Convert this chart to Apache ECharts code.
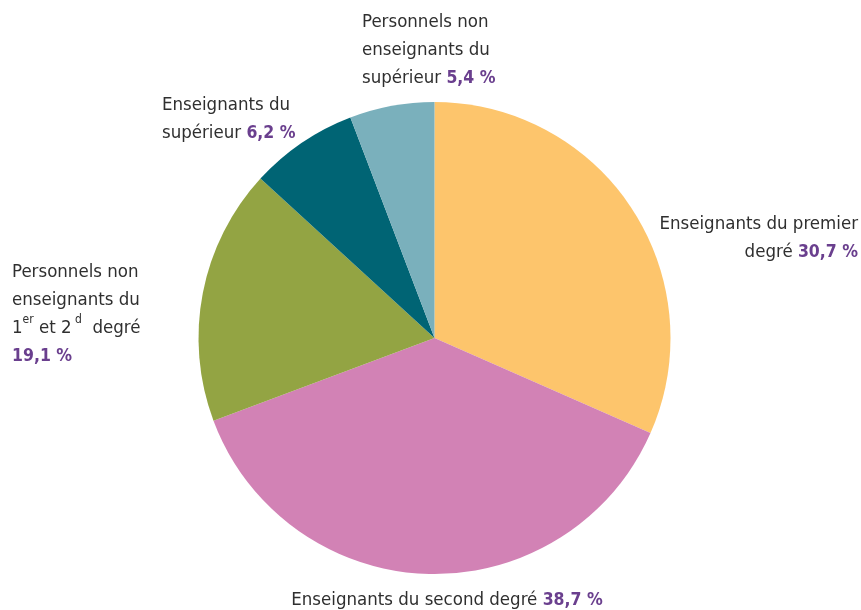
<!DOCTYPE html>
<html><head><meta charset="utf-8">
<script src="https://cdn.jsdelivr.net/npm/echarts@6/dist/echarts.min.js"></script>
<style>html,body{margin:0;padding:0;background:#fff}#c{width:861px;height:610px}</style>
</head><body><div id="c"></div>
<script>
const categories = [
  "Enseignants du premier degré",
  "Enseignants du second degré",
  "Personnels non enseignants du 1er et 2d degré",
  "Enseignants du supérieur",
  "Personnels non enseignants du supérieur"
];
// slice sizes as drawn in the picture (angles measured)
const values = [31.6, 37.7, 17.5, 7.4, 5.8];
// percentages printed in the labels
const labelPercents = ["30,7 %", "38,7 %", "19,1 %", "6,2 %", "5,4 %"];
const colors = ["#FDC56C", "#D282B5", "#93A443", "#006474", "#7AB0BC"];
const labelTexts = [
  "Enseignants du premier\ndegré {p|" + labelPercents[0] + "}",
  "Enseignants du second degré {p|" + labelPercents[1] + "}",
  "Personnels non\nenseignants du\n1{s|er} et 2{s| d}  degré\n{p|" + labelPercents[2] + "}",
  "Enseignants du\nsupérieur {p|" + labelPercents[3] + "}",
  "Personnels non\nenseignants du\nsupérieur {p|" + labelPercents[4] + "}"
];
const FONT = "'DejaVu Sans Condensed', 'Liberation Sans Narrow', Roboto, sans-serif";
const layouts = [
  {x: 858, y: 210, align: 'right'},
  {x: 447, y: 586, align: 'center'},
  {x: 12, y: 258, align: 'left'},
  {x: 162, y: 91, align: 'left'},
  {x: 362, y: 8, align: 'left'}
];
const chart = echarts.init(document.getElementById('c'));
chart.setOption({
  animation: false,
  series: [{
    type: 'pie',
    center: [434.5, 338],
    radius: 236,
    startAngle: 90,
    clockwise: true,
    data: categories.map((n, i) => ({name: n, value: values[i], itemStyle: {color: colors[i]},
      label: {formatter: labelTexts[i], align: layouts[i].align}})),
    label: {
      show: true,
      position: 'outside',
      overflow: 'none',
      color: '#2f2f2f',
      fontFamily: FONT,
      fontSize: 18.5,
      lineHeight: 28,
      rich: {
        p: {color: '#6A3F8E', fontWeight: 'bold', fontSize: 17.5, fontFamily: FONT, lineHeight: 28},
        s: {color: '#2f2f2f', fontSize: 12, fontFamily: FONT, verticalAlign: 'top', lineHeight: 28}
      }
    },
    labelLine: {show: false},
    labelLayout: function (p) {
      const l = layouts[p.dataIndex];
      return {x: l.x, y: l.y, align: l.align, verticalAlign: 'top', hideOverlap: false, moveOverlap: false};
    },
    itemStyle: {borderWidth: 0},
    emphasis: {disabled: true}
  }]
});
</script></body></html>
